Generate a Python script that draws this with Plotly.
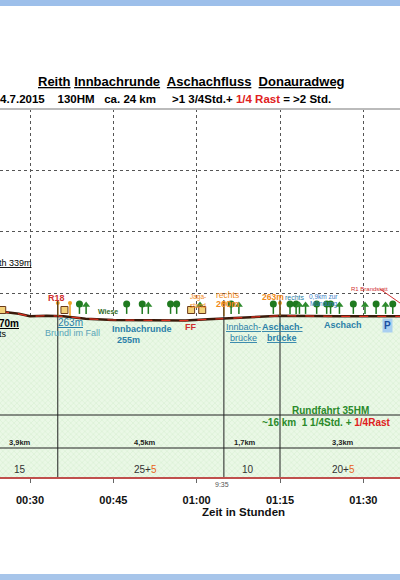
import plotly.graph_objects as go

# ---- data ----
prof_t = [24.6, 28, 30, 33, 36, 40, 45, 55, 58, 62, 66, 72, 75, 85, 96.6]
prof_h = [270, 266, 262, 263, 262, 258, 256, 255, 255, 257, 259, 261, 263, 262, 262]
tick_vals = [30, 45, 60, 75, 90]
tick_text = ["00:30", "00:45", "01:00", "01:15", "01:30"]
round_trees_t = [38.9, 47.4, 50.2, 55.3, 56.4, 66.2, 73.8, 76.8, 77.9, 81.6, 83.4, 84.1, 88.2, 92.3, 95.3]
conifer_t = [40.1, 51.3, 60.6, 67.6, 78.5, 79.6, 85.7, 90.3, 94.0]
post_t = [35.0, 37.2, 64.9, 75.0]
house_t = [25.0, 36.2, 59.0, 61.0]
split_t = [35.0, 64.9, 75.0]
seg_km = ["3,9km", "4,5km", "1,7km", "3,3km"]
seg_km_t = [28.2, 50.7, 68.7, 86.4]
seg_min = ["15", "25+<span style='color:#e8641b'>5</span>", "10", "20+<span style='color:#e8641b'>5</span>"]

X0, X1 = 24.6, 96.6
def xt(px): return X0 + px / 400 * (X1 - X0)
def yh(py): return (477 - py) / 368 * 600
def yp(py): return (477 - py) / 368

fig = go.Figure()
fig.add_trace(go.Scatter(x=prof_t, y=prof_h, mode="lines", fill="tozeroy",
    line=dict(color="#3a1a0a", width=2.5),
    fillcolor="#e6f6e1",
    fillpattern=dict(shape="x", fgcolor="#bfe3b8", bgcolor="#eaf8e6", size=4, solidity=0.25),
    hoverinfo="skip", showlegend=False))
fig.add_trace(go.Scatter(x=prof_t, y=prof_h, mode="lines",
    line=dict(color="#e03020", width=1.2, dash="dash"), hoverinfo="skip", showlegend=False))
fig.add_trace(go.Scatter(x=round_trees_t, y=[yh(304)] * len(round_trees_t), mode="markers",
    marker=dict(symbol="circle", size=7, color="#1f7a1f"), showlegend=False, hoverinfo="skip"))
fig.add_trace(go.Scatter(x=round_trees_t + conifer_t, y=[yh(309)] * (len(round_trees_t) + len(conifer_t)),
    mode="markers", marker=dict(symbol="line-ns", size=7, line=dict(color="#1f7a1f", width=1.5)),
    showlegend=False, hoverinfo="skip"))
fig.add_trace(go.Scatter(x=conifer_t, y=[yh(305)] * len(conifer_t), mode="markers",
    marker=dict(symbol="triangle-up", size=7, color="#2e8b2e"), showlegend=False, hoverinfo="skip"))
fig.add_trace(go.Scatter(x=post_t, y=[yh(303)] * len(post_t), mode="markers",
    marker=dict(symbol="circle", size=4, color="#f0a020"), showlegend=False, hoverinfo="skip"))
fig.add_trace(go.Scatter(x=post_t, y=[yh(309)] * len(post_t), mode="markers",
    marker=dict(symbol="line-ns", size=10, line=dict(color="#f0a020", width=1.5)), showlegend=False, hoverinfo="skip"))
fig.add_trace(go.Scatter(x=house_t, y=[yh(310)] * len(house_t), mode="markers",
    marker=dict(symbol="square", size=7, color="#f3d27a", line=dict(color="#6b3a1a", width=1)),
    showlegend=False, hoverinfo="skip"))

shapes = []
for t in split_t:
    shapes.append(dict(type="line", xref="x", yref="y", x0=t, x1=t, y0=yh(300), y1=0,
                       line=dict(color="#222", width=1)))
for py in (415, 448):
    shapes.append(dict(type="line", xref="paper", yref="y", x0=0, x1=1, y0=yh(py), y1=yh(py),
                       line=dict(color="#222", width=1)))
shapes.append(dict(type="line", xref="paper", yref="paper", x0=0, x1=1, y0=1, y1=1,
                   line=dict(color="#bbbbbb", width=2)))
shapes.append(dict(type="rect", xref="paper", yref="paper", x0=-0.01, x1=1.01, y0=yp(6), y1=yp(-2),
                   fillcolor="#9dbfea", line=dict(width=0), layer="above"))
shapes.append(dict(type="rect", xref="paper", yref="paper", x0=-0.01, x1=1.01, y0=yp(582), y1=yp(574),
                   fillcolor="#a7c5ea", line=dict(width=0), layer="above"))
shapes.append(dict(type="line", xref="x", yref="y", x0=xt(380), x1=xt(400), y0=yh(289), y1=yh(303),
                   line=dict(color="#d03030", width=1)))

ann = []
def A(px, py, text, color="#000", size=9, bold=False, xanchor="center", ref="y"):
    t = f"<b>{text}</b>" if bold else text
    ann.append(dict(x=px / 400, y=(yh(py) if ref == "y" else yp(py)), xref="paper",
                    yref=("y" if ref == "y" else "paper"), text=t, showarrow=False,
                    yanchor="middle",
                    font=dict(color=color, size=size, family="Arial"), xanchor=xanchor))

A(191, 82, "<u>Reith</u> <u>Innbachrunde</u>  <u>Aschachfluss</u>  <u>Donauradweg</u>", size=13, bold=True, ref="p")
A(-2, 99, "4.7.2015    130HM   ca. 24 km     &gt;1 3/4Std.+ <span style='color:#e02020'>1/4 Rast</span> = &gt;2 Std.",
  size=11.5, bold=True, xanchor="left", ref="p")
A(-3, 263, "<u>th 339m</u>", size=9, xanchor="left")
A(-3, 323, "<u>70m</u>", size=10, bold=True, xanchor="left")
A(-3, 334, "ts", size=9, xanchor="left")
A(57, 298, "R18", "#d03030", 9, bold=True)
A(70, 322, "<u>263m</u>", "#2a7fa8", 10)
A(72, 333, "Brundl im Fall", "#5aa3b8", 9)
A(108, 311, "Wiese", "#2e6b1e", 7, bold=True)
A(142, 329, "Innbachrunde", "#2a7fa8", 9, bold=True)
A(128, 340, "255m", "#2a7fa8", 9, bold=True)
A(190, 327, "FF", "#d03030", 9, bold=True)
A(198, 297, "Jaga-", "#f08a20", 6.5)
A(198, 305, "stand", "#f08a20", 6.5)
A(227, 295, "rechts", "#f08a20", 8.5)
A(227, 304, "260m", "#f08a20", 9, bold=True)
A(243, 327, "<u>Innbach-</u>", "#2a7fa8", 9)
A(243, 338, "<u>brücke</u>", "#2a7fa8", 9)
A(282, 327, "<u>Aschach-</u>", "#2a7fa8", 9, bold=True)
A(282, 338, "<u>brücke</u>", "#2a7fa8", 9, bold=True)
A(273, 297, "263m", "#f08a20", 8.5, bold=True)
A(295, 297, "rechts", "#2a7fa8", 7)
A(323, 296, "0,9km zur", "#3a7fc8", 6.5)
A(323, 304, "Mündung", "#3a7fc8", 6.5)
A(343, 325, "Aschach", "#2a7fa8", 9, bold=True)
A(369, 289, "R1 Brandstatt", "#d03030", 6)
ann.append(dict(x=393 / 400, y=yh(325), xref="paper", yref="y", text="<b>P</b>", showarrow=False, bgcolor="#a9cff0",
                font=dict(color="#1a4fa0", size=10, family="Arial")))
A(330, 410, "Rundfahrt 35HM", "#2a8a2a", 10, bold=True)
A(260, 422, "~16 km  1 1/4Std. + <span style='color:#e02020'>1/4Rast</span>", "#2a8a2a", 10, bold=True, xanchor="left")
for t, s in zip(seg_km_t, seg_km):
    ann.append(dict(x=t, y=yh(442), text=f"<b>{s}</b>", showarrow=False,
                    font=dict(size=7.5, color="#222", family="Arial")))
for t, s in zip(seg_km_t, seg_min):
    ann.append(dict(x=t + (0.5 if s == "10" else 0), y=yh(469), text=s, showarrow=False,
                    font=dict(size=10, color="#333", family="Arial")))
A(222, 484, "9:35", "#555", 7, ref="p")
A(243, 512, "Zeit in Stunden", "#111", 11.5, bold=True, ref="p")

fig.update_layout(
    width=400, height=580, margin=dict(l=0, r=0, t=109, b=103),
    paper_bgcolor="white", plot_bgcolor="white",
    xaxis=dict(range=[X0, X1], tickvals=tick_vals, ticktext=[f"<b>{t}</b>" for t in tick_text],
               showgrid=True, gridcolor="#555", griddash="dot", gridwidth=1,
               ticks="outside", ticklen=4, tickcolor="#666", ticklabelstandoff=8,
               tickfont=dict(size=11, family="Arial", color="#111"),
               showline=True, linecolor="#c0504d", linewidth=2, zeroline=False),
    yaxis=dict(range=[0, 600], dtick=100, showticklabels=False, showgrid=True,
               gridcolor="#555", griddash="dot", zeroline=False),
    shapes=shapes, annotations=ann,
)
fig.write_html("out.html", config={"displayModeBar": False},
               post_script="document.body.style.margin='0';document.body.style.overflow='hidden';")
